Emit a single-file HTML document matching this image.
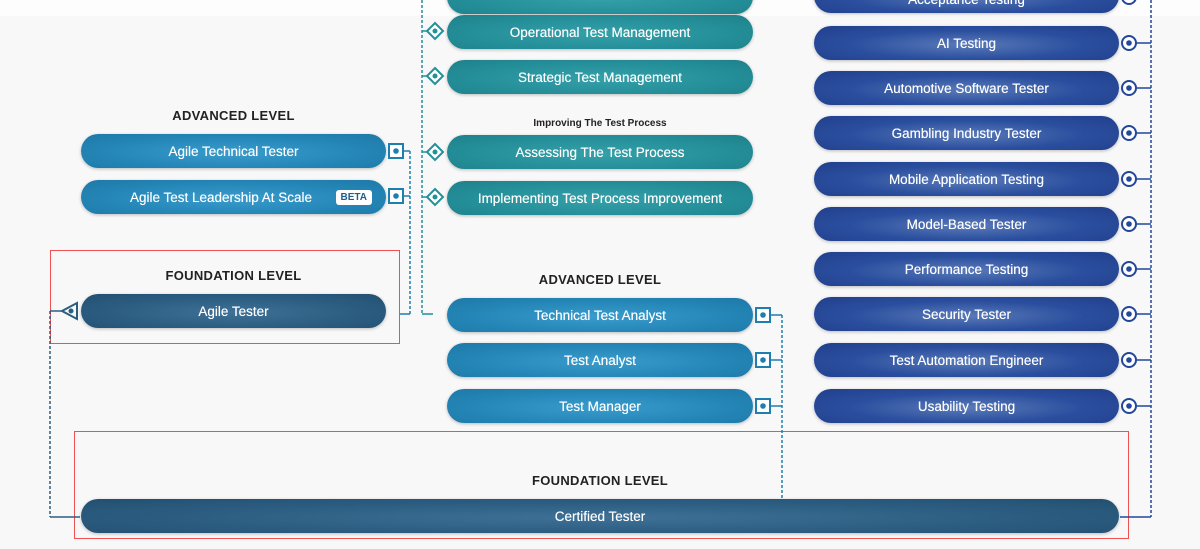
<!DOCTYPE html>
<html><head><meta charset="utf-8"><style>
*{margin:0;padding:0;box-sizing:border-box}
body{width:1200px;height:549px;background:#f8f8f8;position:relative;overflow:hidden;font-family:"Liberation Sans",sans-serif}
.p{position:absolute;height:34px;border-radius:17px;color:#fff;font-size:13.5px;display:flex;align-items:center;justify-content:center;box-shadow:0 1px 3px rgba(0,0,0,.25);text-shadow:0 0 0.4px #fff}
.b{background:radial-gradient(ellipse at 50% 55%,#3a9ccc 0%,#2486b6 60%,#1d78a8 100%)}
.t{background:radial-gradient(ellipse at 50% 55%,#35a0a8 0%,#248f99 60%,#1e8089 100%)}
.n{background:radial-gradient(ellipse at 50% 55%,#5a7ab8 0%,#2a4e9e 55%,#213f8c 100%)}
.d{background:radial-gradient(ellipse at 50% 55%,#3f7096 0%,#2c5e82 55%,#234f70 100%)}
.h{position:absolute;font-weight:bold;font-size:13px;color:#222;text-align:center;letter-spacing:.3px}
.r{position:absolute;border:1px solid #f05050}
svg{position:absolute;left:0;top:0}
</style></head><body>
<div style="position:absolute;left:0;top:0;width:1200px;height:16px;background:#fdfdfd"></div>
<div class="r" style="left:50px;top:250px;width:350px;height:94px"></div>
<div class="r" style="left:74px;top:431px;width:1055px;height:108px"></div>

<div class="h" style="left:81px;top:108px;width:305px">ADVANCED LEVEL</div>
<div class="h" style="left:81px;top:268px;width:305px">FOUNDATION LEVEL</div>
<div class="h" style="left:447px;top:272px;width:306px">ADVANCED LEVEL</div>
<div class="h" style="left:81px;top:473px;width:1038px">FOUNDATION LEVEL</div>
<div class="h" style="left:447px;top:118px;width:306px;font-size:10px;letter-spacing:0">Improving The Test Process</div>

<div class="p b" style="left:81px;top:134px;width:305px">Agile Technical Tester</div>
<div class="p b" style="left:81px;top:180px;width:305px"><span style="margin-left:-25px">Agile Test Leadership At Scale</span><span style="position:absolute;right:14px;background:#fff;color:#1f5f8a;font-size:10px;font-weight:bold;padding:2px 5px;border-radius:3px;text-shadow:none">BETA</span></div>
<div class="p d" style="left:81px;top:294px;width:305px">Agile Tester</div>

<div class="p t" style="left:447px;top:-20px;width:306px"></div>
<div class="p t" style="left:447px;top:15px;width:306px">Operational Test Management</div>
<div class="p t" style="left:447px;top:60px;width:306px">Strategic Test Management</div>
<div class="p t" style="left:447px;top:135px;width:306px">Assessing The Test Process</div>
<div class="p t" style="left:447px;top:181px;width:306px">Implementing Test Process Improvement</div>

<div class="p b" style="left:447px;top:298px;width:306px">Technical Test Analyst</div>
<div class="p b" style="left:447px;top:343px;width:306px">Test Analyst</div>
<div class="p b" style="left:447px;top:389px;width:306px">Test Manager</div>

<div class="p n" style="left:814px;top:-21px;width:305px"><span style="margin-top:6px">Acceptance Testing</span></div>
<div class="p n" style="left:814px;top:26px;width:305px">AI Testing</div>
<div class="p n" style="left:814px;top:71px;width:305px">Automotive Software Tester</div>
<div class="p n" style="left:814px;top:116px;width:305px">Gambling Industry Tester</div>
<div class="p n" style="left:814px;top:162px;width:305px">Mobile Application Testing</div>
<div class="p n" style="left:814px;top:207px;width:305px">Model-Based Tester</div>
<div class="p n" style="left:814px;top:252px;width:305px">Performance Testing</div>
<div class="p n" style="left:814px;top:297px;width:305px">Security Tester</div>
<div class="p n" style="left:814px;top:343px;width:305px">Test Automation Engineer</div>
<div class="p n" style="left:814px;top:389px;width:305px">Usability Testing</div>

<div class="p d" style="left:81px;top:499px;width:1038px">Certified Tester</div>

<svg width="1200" height="549" viewBox="0 0 1200 549" fill="none">
<g stroke="#2a5d80" stroke-width="1.5">
<path d="M50 311 V517" stroke-dasharray="3 2"/>
<path d="M50 311 H62 M50 517 H80"/>
<path d="M77 303 L62 311 L77 319 Z" fill="#f8f8f8" stroke-width="2"/>
<circle cx="71" cy="311" r="2.5" fill="#2a5d80" stroke="none"/>
</g>
<g stroke="#1e7fae" stroke-width="2">
<rect x="389" y="144" width="14" height="14" fill="#fff"/><circle cx="396" cy="151" r="2.8" fill="#1e7fae" stroke="none"/>
<rect x="389" y="189" width="14" height="14" fill="#fff"/><circle cx="396" cy="196" r="2.8" fill="#1e7fae" stroke="none"/>
<path d="M403 151 H410 M403 196 H410 M400 314 H410" stroke-width="1.5"/>
<path d="M410 151 V314" stroke-dasharray="3 2" stroke-width="1.5"/>
<rect x="756" y="308" width="14" height="14" fill="#fff"/><circle cx="763" cy="315" r="2.8" fill="#1e7fae" stroke="none"/>
<rect x="756" y="353" width="14" height="14" fill="#fff"/><circle cx="763" cy="360" r="2.8" fill="#1e7fae" stroke="none"/>
<rect x="756" y="399" width="14" height="14" fill="#fff"/><circle cx="763" cy="406" r="2.8" fill="#1e7fae" stroke="none"/>
<path d="M770 315 H782 M770 360 H782 M770 406 H782" stroke-width="1.5"/>
<path d="M782 315 V499" stroke-dasharray="3 2" stroke-width="1.5"/>
</g>
<g stroke="#23909a" stroke-width="1.5">
<path d="M422 0 V314" stroke-dasharray="3 2"/>
<path d="M422 314 H433 M422 31 H427 M422 76 H427 M422 152 H427 M422 197 H427"/>
<g fill="#fff" stroke-width="2">
<path d="M435 23 L443 31 L435 39 L427 31 Z"/>
<path d="M435 68 L443 76 L435 84 L427 76 Z"/>
<path d="M435 144 L443 152 L435 160 L427 152 Z"/>
<path d="M435 189 L443 197 L435 205 L427 197 Z"/>
</g>
<g fill="#23909a" stroke="none"><circle cx="435" cy="31" r="2.5"/><circle cx="435" cy="76" r="2.5"/><circle cx="435" cy="152" r="2.5"/><circle cx="435" cy="197" r="2.5"/></g>
</g>
<g stroke="#23479a" stroke-width="1.5">
<path d="M1151 0 V517" stroke-dasharray="3 2"/>
<path d="M1120 517 H1151"/>
<g fill="#fff" stroke-width="2">
<circle cx="1129" cy="-3" r="7"/><circle cx="1129" cy="43" r="7"/><circle cx="1129" cy="88" r="7"/><circle cx="1129" cy="133" r="7"/><circle cx="1129" cy="179" r="7"/><circle cx="1129" cy="224" r="7"/><circle cx="1129" cy="269" r="7"/><circle cx="1129" cy="314" r="7"/><circle cx="1129" cy="360" r="7"/><circle cx="1129" cy="406" r="7"/>
</g>
<path d="M1136 43 H1151 M1136 88 H1151 M1136 133 H1151 M1136 179 H1151 M1136 224 H1151 M1136 269 H1151 M1136 314 H1151 M1136 360 H1151 M1136 406 H1151"/>
<g fill="#23479a" stroke="none">
<circle cx="1129" cy="-3" r="2.8"/><circle cx="1129" cy="43" r="2.8"/><circle cx="1129" cy="88" r="2.8"/><circle cx="1129" cy="133" r="2.8"/><circle cx="1129" cy="179" r="2.8"/><circle cx="1129" cy="224" r="2.8"/><circle cx="1129" cy="269" r="2.8"/><circle cx="1129" cy="314" r="2.8"/><circle cx="1129" cy="360" r="2.8"/><circle cx="1129" cy="406" r="2.8"/>
</g>
</g>
</svg>
</body></html>
